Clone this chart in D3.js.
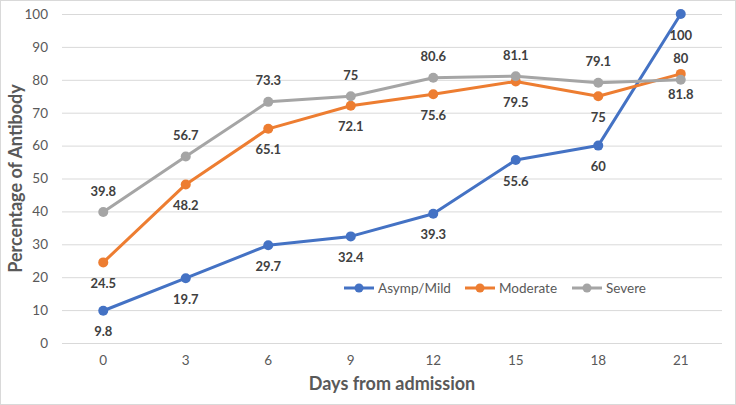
<!DOCTYPE html>
<html><head><meta charset="utf-8">
<script src="https://cdn.jsdelivr.net/npm/d3@7"></script>
<style>body{margin:0;background:#fff;}svg{display:block;font-family:Lato,"Open Sans",sans-serif;}</style>
</head><body><svg id="c" width="736" height="405"></svg>
<script>
const days = ["0","3","6","9","12","15","18","21"];
const yTicks = [0,10,20,30,40,50,60,70,80,90,100];
const seriesNames = ["Asymp/Mild","Moderate","Severe"];
const asympMild = [9.8,19.7,29.7,32.4,39.3,55.6,60,100];
const moderate = [24.5,48.2,65.1,72.1,75.6,79.5,75,81.8];
const severe = [39.8,56.7,73.3,75,80.6,81.1,79.1,80];
const colors = ["#4472C4","#ED7D31","#A5A5A5"];
const labelPos = ["below","below","above"];

const svg = d3.select("#c");
svg.append("rect").attr("x",0.5).attr("y",0.5).attr("width",735).attr("height",404)
  .attr("fill","#fff").attr("stroke","#d9d9d9");
const L=62,R=722,T=14,B=343;
const x = d3.scaleBand().domain(days).range([L,R]);
const y = d3.scaleLinear().domain([0,100]).range([B,T]);

const gy = svg.append("g").attr("transform",`translate(${L},0)`)
  .call(d3.axisLeft(y).tickValues(yTicks).tickSize(-(R-L)).tickPadding(14));
gy.select(".domain").remove();
gy.selectAll(".tick line").attr("stroke","#d9d9d9").attr("stroke-width",1);
gy.selectAll(".tick text").attr("fill","#595959").style("font-size","13.5px").style("font-family","Lato,'Open Sans',sans-serif");

const gx = svg.append("g").attr("transform",`translate(0,${B})`)
  .call(d3.axisBottom(x).tickSize(0).tickPadding(12));
gx.select(".domain").remove();
gx.selectAll(".tick text").attr("fill","#595959").style("font-size","13.5px").style("font-family","Lato,'Open Sans',sans-serif");

const all = [asympMild, moderate, severe];
const line = d3.line().x((d,i)=>x(days[i])+x.bandwidth()/2).y(d=>y(d));
all.forEach((vals,si)=>{
  const g = svg.append("g");
  g.append("path").datum(vals).attr("d",line).attr("fill","none")
    .attr("stroke",colors[si]).attr("stroke-width",3).attr("stroke-linejoin","round");
  g.selectAll("circle").data(vals).join("circle")
    .attr("cx",(d,i)=>x(days[i])+x.bandwidth()/2).attr("cy",d=>y(d)).attr("r",5).attr("fill",colors[si]);
});
all.forEach((vals,si)=>{
  svg.append("g").selectAll("text").data(vals).join("text")
    .attr("x",(d,i)=>x(days[i])+x.bandwidth()/2)
    .attr("y",d=>y(d)+(labelPos[si]==="below"?21:-21))
    .attr("dy","0.35em").attr("text-anchor","middle")
    .attr("fill","#404040").style("font-size","13px").style("font-weight","bold")
    .text(d=>d);
});

// legend
const leg = svg.append("g");
const legX = [344,465,572];
seriesNames.forEach((n,i)=>{
  const gx0 = legX[i];
  leg.append("line").attr("x1",gx0).attr("x2",gx0+30).attr("y1",288).attr("y2",288)
    .attr("stroke",colors[i]).attr("stroke-width",3);
  leg.append("circle").attr("cx",gx0+15).attr("cy",288).attr("r",4.5).attr("fill",colors[i]);
  leg.append("text").attr("x",gx0+34).attr("y",288).attr("dy","0.35em")
    .attr("fill","#595959").style("font-size","13.5px").text(n);
});

svg.append("text").attr("x",(L+R)/2).attr("y",384).attr("dy","0.35em").attr("text-anchor","middle")
  .attr("fill","#595959").style("font-size","18px").style("font-weight","bold").text("Days from admission");
svg.append("text").attr("transform",`translate(16,${(T+B)/2}) rotate(-90)`).attr("dy","0.35em")
  .attr("text-anchor","middle").attr("fill","#595959").style("font-size","18px").style("font-weight","bold")
  .text("Percentage of Antibody");
</script></body></html>
